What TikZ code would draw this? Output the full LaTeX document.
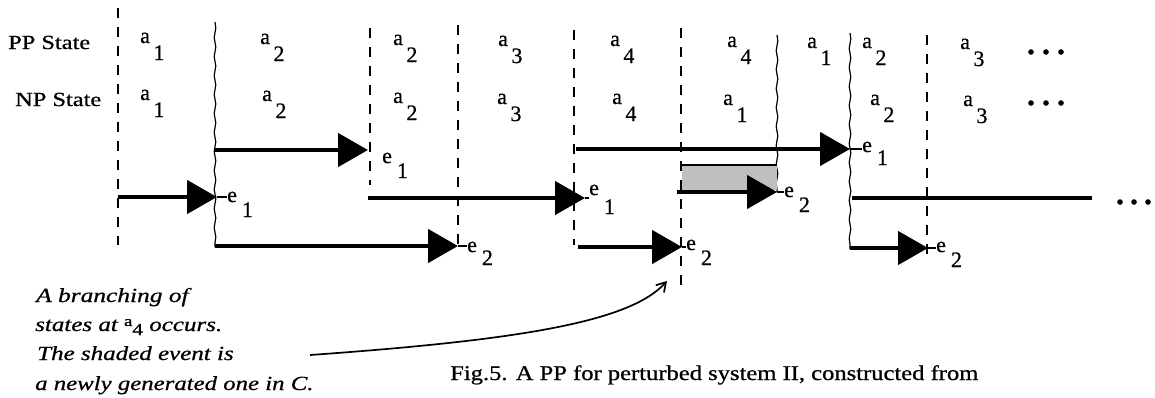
\documentclass[tikz,border=0pt]{standalone}
\usepackage{fontspec}
\setmainfont{Liberation Serif}[FakeBold=0.7]
\usetikzlibrary{arrows.meta,decorations.pathmorphing}
\newcommand\stA[1]{a\hspace{3.5pt}\raisebox{-17pt}{#1}}
\newcommand\evL[2][15pt]{e\hspace{5pt}\raisebox{-#1}{#2}}
\begin{document}
\begin{tikzpicture}[x=1pt,y=-1pt,
  dline/.style={line width=2.3pt, dash pattern=on 10pt off 9pt},
  wline/.style={line width=1.2pt, decorate, decoration={snake, amplitude=0.8pt, segment length=19pt}},
  evarrow/.style={line width=4.7pt, -{Triangle[length=30pt,width=33pt]}},
  evline/.style={line width=4.7pt},
  ticklin/.style={line width=1.1pt},
  lbl/.style={font=\fontsize{22}{26}\selectfont, inner sep=0pt, anchor=base west},
  rowtxt/.style={font=\fontsize{20}{24}\selectfont, inner sep=0pt, anchor=base west},
  notetxt/.style={font=\fontsize{20}{24}\selectfont\itshape, inner sep=0pt, anchor=base west},
  captxt/.style={font=\fontsize{21}{25}\selectfont, inner sep=0pt, anchor=base west},
  shadebox/.style={fill=black!25},
  dotfill/.style={fill=black}
]
\useasboundingbox (0,0) rectangle (1155,397);

% vertical dashed lines
\coordinate (d1t) at (118,8);   \coordinate (d1b) at (118,245);
\coordinate (d2t) at (370,28);  \coordinate (d2b) at (370,185);
\coordinate (d3t) at (458,25);  \coordinate (d3b) at (458,245);
\coordinate (d4t) at (574,30);  \coordinate (d4b) at (574,245);
\coordinate (d5t) at (681,28);  \coordinate (d5b) at (681,285);
\coordinate (d6t) at (927,35);  \coordinate (d6b) at (927,256);
\foreach \n in {1,...,6} {\draw[dline] (d\n t) -- (d\n b);}

% wavy lines
\coordinate (w1t) at (215,22);  \coordinate (w1b) at (215,247);
\coordinate (w2t) at (777,35);  \coordinate (w2b) at (777,192);
\coordinate (w3t) at (850,33);  \coordinate (w3b) at (850,249);
\foreach \n in {1,2,3} {\draw[wline] (w\n t) -- (w\n b);}

% shaded event box
\coordinate (sb1) at (682,165); \coordinate (sb2) at (777,190);
\fill[shadebox] (sb1) rectangle (sb2);
\draw[line width=2.4pt] (sb1) -- (sb1 -| sb2);

% row titles
\node[rowtxt] (pp) at (8,49) {\scalebox{1.22}[1]{PP State}};
\node[rowtxt] (np) at (15,106) {\scalebox{1.22}[1]{NP State}};

% PP states
\node[lbl] (p1) at (140,43) {\stA{1}};
\node[lbl] (p2) at (260,44) {\stA{2}};
\node[lbl] (p3) at (393,45) {\stA{2}};
\node[lbl] (p4) at (498,46) {\stA{3}};
\node[lbl] (p5) at (610,46) {\stA{4}};
\node[lbl] (p6) at (727,47) {\stA{4}};
\node[lbl] (p7) at (807,48) {\stA{1}};
\node[lbl] (p8) at (862,48) {\stA{2}};
\node[lbl] (p9) at (960,49) {\stA{3}};
% NP states
\node[lbl] (n1) at (140,100) {\stA{1}};
\node[lbl] (n2) at (262,101) {\stA{2}};
\node[lbl] (n3) at (393,103) {\stA{2}};
\node[lbl] (n4) at (497,104) {\stA{3}};
\node[lbl] (n5) at (612,104) {\stA{4}};
\node[lbl] (n6) at (723,105) {\stA{1}};
\node[lbl] (n7) at (870,105) {\stA{2}};
\node[lbl] (n8) at (963,106) {\stA{3}};

% ellipses
\foreach \x in {1031,1046,1061} {\fill[dotfill] (\x,52) circle (2.8pt); \fill[dotfill] (\x,103) circle (2.8pt);}
\foreach \x in {1120,1134,1148} {\fill[dotfill] (\x,202) circle (2.8pt);}

% events
\coordinate (a1s) at (118,197); \coordinate (a1e) at (217,197);
\coordinate (a2s) at (215,150); \coordinate (a2e) at (368,150);
\coordinate (a3s) at (215,246); \coordinate (a3e) at (458,246);
\coordinate (a4s) at (368,198); \coordinate (a4e) at (585,198);
\coordinate (a5s) at (578,247); \coordinate (a5e) at (682,247);
\coordinate (a6s) at (576,149); \coordinate (a6e) at (850,149);
\coordinate (a7s) at (677,192); \coordinate (a7e) at (777,192);
\coordinate (a8s) at (852,198); \coordinate (a8e) at (1092,198);
\coordinate (a9s) at (850,248); \coordinate (a9e) at (928,248);
\foreach \n in {1,2,3,4,5,6,7,9} {\draw[evarrow] (a\n s) -- (a\n e);}
\draw[evline] (a8s) -- (a8e);

\node[lbl] (e1) at (227,202) {\evL{1}};
\node[lbl] (e2) at (382,163) {\evL{1}};
\node[lbl] (e3) at (467,252) {\evL[13pt]{2}};
\node[lbl] (e4) at (589,195) {\evL[19pt]{1}};
\node[lbl] (e5) at (686,250) {\evL{2}};
\node[lbl] (e6) at (862,152) {\evL[13pt]{1}};
\node[lbl] (e7) at (784,197) {\evL{2}};
\node[lbl] (e9) at (936,252) {\evL{2}};
\foreach \n/\m in {1/1,3/3,4/4,5/5,6/6,7/7,9/9} {\draw[ticklin] (a\n e) -- (a\n e -| e\m.west);}

% annotation
\node[notetxt] (t1) at (36,302) {\scalebox{1.27}[1]{A branching of}};
\node[notetxt] (t2) at (35,331) {\scalebox{1.25}[1]{states at \upshape\raisebox{5pt}{\fontsize{15}{15}\selectfont a}\raisebox{-4pt}{\fontsize{17}{17}\selectfont 4} \itshape occurs.}};
\node[notetxt] (t3) at (37,360) {\scalebox{1.25}[1]{The shaded event is}};
\node[notetxt] (t4) at (35,390) {\scalebox{1.24}[1]{a newly generated one in C.}};

\coordinate (cs) at (310,355);
\coordinate (ce) at (667,281);
\draw[line width=1.7pt, -{Straight Barb[length=9pt,width=11pt]}] (cs) .. controls (520,340) and (630,322) .. (ce);

% caption
\node[captxt] (fig) at (450,380) {\scalebox{1.17}[1]{Fig.5. A PP for perturbed system II, constructed from}};
\end{tikzpicture}
\end{document}
